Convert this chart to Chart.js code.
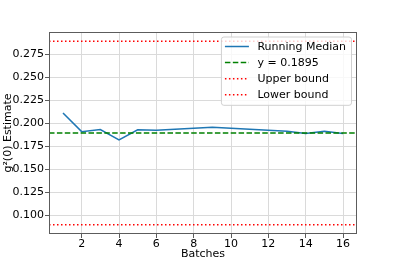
<!DOCTYPE html>
<html>
<head>
<meta charset="utf-8">
<script src="https://cdn.jsdelivr.net/npm/chart.js@4/dist/chart.umd.min.js"></script>
<style>
    html, body { margin: 0; padding: 0; background: #fff; }
    #chart { display: block; }
</style>
</head>
<body>
<canvas id="chart" width="397" height="264"></canvas>
<script>
// data
const batches = [1, 2, 3, 4, 5, 6, 7, 8, 9, 10, 11, 12, 13, 14, 15, 16];
const runningMedian = [0.2113, 0.1910, 0.1932, 0.1820, 0.1930, 0.1925, 0.1935, 0.1947, 0.1958, 0.1948, 0.1935, 0.1924, 0.1914, 0.1889, 0.1913, 0.1889];
const refValue = 0.1895;
const upperBound = 0.2895;
const lowerBound = 0.0895;
const xTicks = [2, 4, 6, 8, 10, 12, 14, 16];
const yTicks = [0.100, 0.125, 0.150, 0.175, 0.200, 0.225, 0.250, 0.275];
const xRange = [0.25, 16.75];
const yRange = [0.0795, 0.2995];

const FONT = 'DejaVu Sans';
const SPINE = '#5c5c5c';
const GRID = '#dadada';

function hline(value) {
    return [{ x: xRange[0], y: value }, { x: xRange[1], y: value }];
}

const spinePlugin = {
    id: 'spines',
    afterDatasetsDraw(chart) {
        const { ctx, chartArea: a } = chart;
        ctx.save();
        ctx.strokeStyle = SPINE;
        ctx.lineWidth = 1;
        ctx.strokeRect(Math.round(a.left) + 0.5, Math.round(a.top) + 0.5,
            Math.round(a.right - a.left) - 1, Math.round(a.bottom - a.top) - 1);
        ctx.restore();
    }
};

// matplotlib style legend in the upper right corner
const legendPlugin = {
    id: 'mplLegend',
    afterDraw(chart) {
        const { ctx, chartArea: a } = chart;
        const sets = chart.data.datasets;
        ctx.save();
        ctx.font = `11px '${FONT}'`;
        const maxW = Math.max(...sets.map(d => ctx.measureText(d.label).width));
        const rowH = 16.1;
        const w = 4 + 24 + 8.5 + maxW + 5;
        const h = rowH * (sets.length - 1) + 20;
        const right = a.right - 5.5;
        const left = right - w;
        const top = a.top + 5;

        ctx.beginPath();
        ctx.roundRect(left, top, w, h, 2.5);
        ctx.fillStyle = 'rgba(255,255,255,0.8)';
        ctx.fill();
        ctx.strokeStyle = '#d0d0d0';
        ctx.lineWidth = 1;
        ctx.stroke();

        sets.forEach((d, i) => {
            const y = top + 9.5 + i * rowH;
            ctx.beginPath();
            ctx.setLineDash(d.borderDash || []);
            ctx.strokeStyle = d.borderColor;
            ctx.lineWidth = d.borderWidth;
            ctx.moveTo(left + 3.5, y);
            ctx.lineTo(left + 27.5, y);
            ctx.stroke();
            ctx.setLineDash([]);
            ctx.fillStyle = '#000';
            ctx.textBaseline = 'middle';
            ctx.fillText(d.label, left + 36, y + 0.5);
        });
        ctx.restore();
    }
};

const ctx = document.getElementById('chart').getContext('2d');
new Chart(ctx, {
    type: 'line',
    data: {
        datasets: [
            {
                label: 'Running Median',
                data: batches.map((b, i) => ({ x: b, y: runningMedian[i] })),
                borderColor: '#1f77b4',
                borderWidth: 1.5,
                pointRadius: 0,
                tension: 0,
                order: 3
            },
            {
                label: 'y = ' + refValue,
                data: hline(refValue),
                borderColor: '#008000',
                borderWidth: 1.5,
                borderDash: [5.5, 2.4],
                pointRadius: 0,
                order: 1
            },
            {
                label: 'Upper bound',
                data: hline(upperBound),
                borderColor: '#ff0000',
                borderWidth: 1.5,
                borderDash: [1.5, 2.5],
                pointRadius: 0,
                order: 2
            },
            {
                label: 'Lower bound',
                data: hline(lowerBound),
                borderColor: '#ff0000',
                borderWidth: 1.5,
                borderDash: [1.5, 2.5],
                pointRadius: 0,
                order: 2
            }
        ]
    },
    options: {
        responsive: false,
        animation: false,
        events: [],
        layout: { padding: { left: 0, top: 32, right: 40, bottom: 0 } },
        plugins: {
            legend: { display: false },
            tooltip: { enabled: false }
        },
        scales: {
            x: {
                type: 'linear',
                min: xRange[0],
                max: xRange[1],
                afterBuildTicks: s => { s.ticks = xTicks.map(v => ({ value: v })); },
                afterFit: s => { s.height = 30; },
                ticks: {
                    color: '#000',
                    font: { family: FONT, size: 11 },
                    padding: 0,
                    maxRotation: 0,
                    callback: v => String(v)
                },
                grid: { color: GRID, lineWidth: 1, tickLength: 4, tickColor: SPINE },
                border: { display: false },
                title: {
                    display: true,
                    text: 'Batches',
                    color: '#000',
                    font: { family: FONT, size: 11 },
                    padding: { top: 0, bottom: 3 }
                }
            },
            y: {
                type: 'linear',
                min: yRange[0],
                max: yRange[1],
                afterBuildTicks: s => { s.ticks = yTicks.map(v => ({ value: v })); },
                afterFit: s => { s.width = 49; },
                ticks: {
                    color: '#000',
                    font: { family: FONT, size: 11 },
                    padding: 1,
                    callback: v => v.toFixed(3)
                },
                grid: { color: GRID, lineWidth: 1, tickLength: 4, tickColor: SPINE },
                border: { display: false },
                title: {
                    display: true,
                    text: 'g²(0) Estimate',
                    color: '#000',
                    font: { family: FONT, size: 11 },
                    padding: { top: 2, bottom: 0 }
                }
            }
        }
    },
    plugins: [spinePlugin, legendPlugin]
});
</script>
</body>
</html>
